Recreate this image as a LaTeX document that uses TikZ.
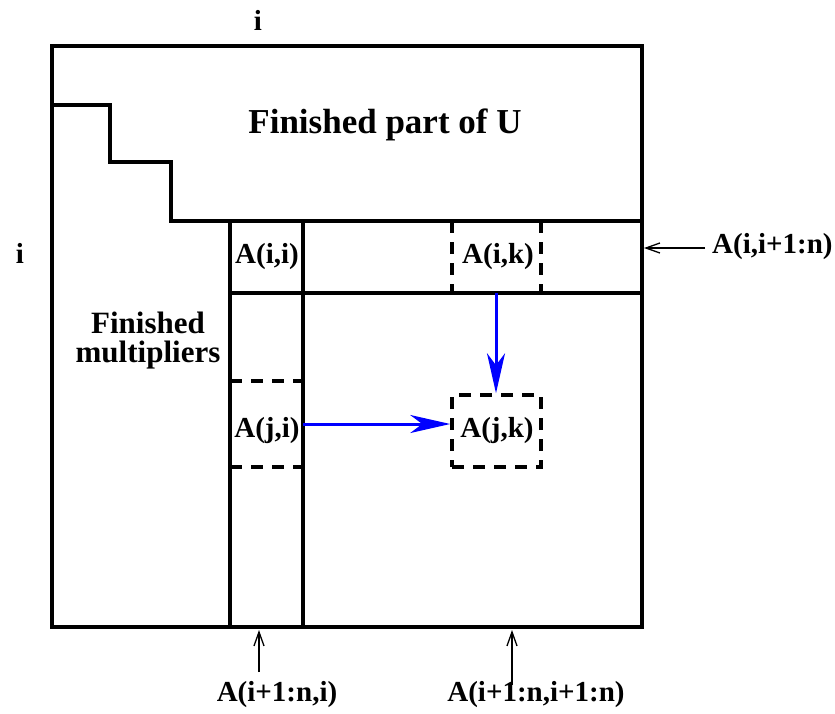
\documentclass[tikz,border=0pt]{standalone}
\usepackage{fontspec}
\setmainfont{Liberation Serif}
\usetikzlibrary{arrows.meta}
\begin{document}
\begin{tikzpicture}[x=1pt,y=-1pt,
  frame/.style={line width=3.5pt,line cap=rect},
  dsh/.style={line width=3.5pt,dash pattern=on 12pt off 9pt},
  lbl/.style={font=\fontsize{29}{30}\selectfont\bfseries,inner sep=0pt},
  big/.style={font=\fontsize{35}{30}\selectfont\bfseries,inner sep=0pt},
  mid/.style={font=\fontsize{31}{29}\selectfont\bfseries,inner sep=0pt,align=center},
  blue arrow/.style={draw=blue,line width=3pt,-{Stealth[length=40pt,width=18pt,inset=12pt]}},
  thin arrow/.style={line width=1.3pt,-{Straight Barb[length=14pt,width=10pt]}}]
\useasboundingbox (0,0) rectangle (835,713);
% outer frame and staircase
\draw[frame] (52,46) rectangle (642,627);
\draw[frame] (52,105) -- (110,105) -- (110,162) -- (171,162) -- (171,221) -- (642,221);
\draw[frame] (230,221) -- (230,627);
\draw[frame] (303,221) -- (303,627);
\draw[frame] (230,293) -- (642,293);
% dashed parts
\draw[dsh] (452,221) -- (452,293);
\draw[dsh] (541,221) -- (541,293);
\draw[dsh] (230,381) -- (303,381);
\draw[dsh] (230,467) -- (303,467);
\node[dsh,draw,minimum width=89pt,minimum height=72pt,inner sep=0pt] (jkbox) at (496.5,431) {};
% texts
\node[lbl] (itop) at (258,20) {i};
\node[lbl] (ileft) at (20,253) {i};
\node[big] (U) at (385,125) {Finished part of U};
\node[mid] (mult) at (148,341) {Finished\\multipliers};
\node[lbl] (aii) at (267,257) {A(i,i)};
\node[lbl] (aik) at (498,257) {A(i,k)};
\node[lbl] (aji) at (267,431) {A(j,i)};
\node[lbl] (ajk) at (497,431) {A(j,k)};
\node[lbl,anchor=west] (row) at (712,247) {A(i,i+1:n)};
\node[lbl] (col) at (277,695) {A(i+1:n,i)};
\node[lbl] (trail) at (536,695) {A(i+1:n,i+1:n)};
% connectors
\coordinate (rowtip) at (644,248);
\coordinate (coltip) at (259,630);
\coordinate (coltail) at (259,672);
\coordinate (trailtip) at (512,630);
\coordinate (trailtail) at (512,685);
\coordinate (jisrc) at (303,424);
\coordinate (iksrc) at (496,293);
\draw[thin arrow] (705,248) -- (rowtip);
\draw[thin arrow] (coltail) -- (coltip);
\draw[thin arrow] (trailtail) -- (trailtip);
\draw[blue arrow] (jisrc) -- (jkbox.west |- jisrc);
\draw[blue arrow] (iksrc) -- (jkbox.north -| iksrc);
\end{tikzpicture}
\end{document}
